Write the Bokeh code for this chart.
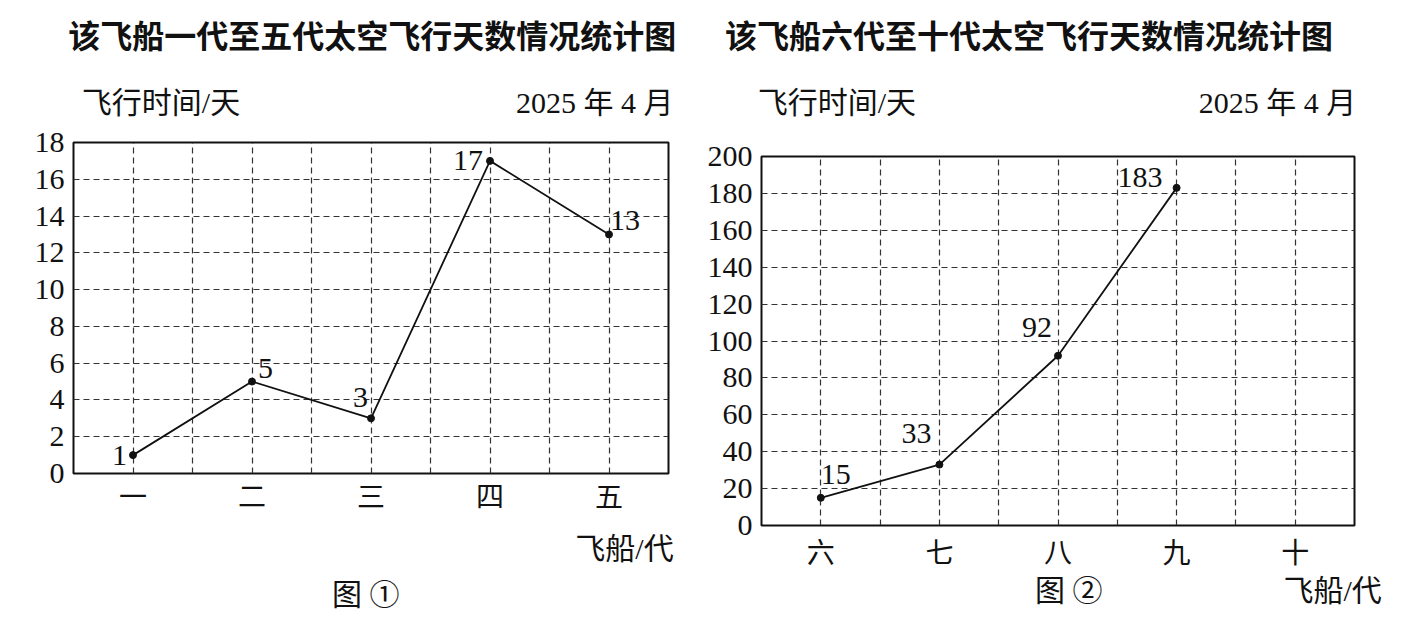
from bokeh.plotting import figure
from bokeh.models import Range1d, FixedTicker, LinearAxis, ColumnDataSource
from bokeh.layouts import row
from bokeh.embed import file_html
from bokeh.resources import INLINE
from bokeh.core.properties import value

# ---------------- data ----------------
cats1 = ["一", "二", "三", "四", "五"]
days1 = [1, 5, 3, 17, 13]
cats2 = ["六", "七", "八", "九", "十"]
days2 = [15, 33, 92, 183]
y1_ticks = [0, 2, 4, 6, 8, 10, 12, 14, 16, 18]
y2_ticks = [0, 20, 40, 60, 80, 100, 120, 140, 160, 180, 200]

title1 = "该飞船一代至五代太空飞行天数情况统计图"
title2 = "该飞船六代至十代太空飞行天数情况统计图"
ylab = "飞行时间/天"
xlab = "飞船/代"
date_text = "2025 年 4 月"
cap1 = "图 ①"
cap2 = "图 ②"

SERIF = "Liberation Serif"
CJK = "Noto Sans CJK SC"
MIX = "Liberation Serif, Noto Sans CJK SC"
INK = "#111111"


def text_axis(p, side, ticks, labels, standoff, size, font=MIX, bold=False):
    ax = LinearAxis(ticker=FixedTicker(ticks=ticks),
                    major_label_overrides={t: s for t, s in zip(ticks, labels)})
    ax.axis_line_color = None
    ax.major_tick_line_color = None
    ax.minor_tick_line_color = None
    ax.major_tick_out = 0
    ax.major_tick_in = 0
    ax.major_label_standoff = standoff
    ax.major_label_text_font = font
    ax.major_label_text_font_size = size
    ax.major_label_text_color = INK
    if bold:
        ax.major_label_text_font_style = "bold"
    p.add_layout(ax, side)
    return ax


def make_chart(cats, days, yticks, ymax, geom, lab_off):
    fw, fh, bl, br, bt, bb = geom
    p = figure(frame_width=fw, frame_height=fh, min_border_left=bl,
               min_border_right=br, min_border_top=bt, min_border_bottom=bb,
               x_range=Range1d(0, 10), y_range=Range1d(0, ymax),
               toolbar_location=None, output_backend="svg",
               background_fill_color="white", border_fill_color="white")
    p.frame_align = False
    p.title = None
    p.outline_line_color = "#111111"
    p.outline_line_width = 2
    xs_cat = [2 * i + 1 for i in range(len(cats))]
    p.xaxis.ticker = FixedTicker(ticks=xs_cat)
    p.xaxis.major_label_overrides = {x: c for x, c in zip(xs_cat, cats)}
    p.yaxis.ticker = FixedTicker(ticks=yticks)
    for ax in (p.xaxis[0], p.yaxis[0]):
        ax.axis_line_color = None
        ax.major_tick_line_color = None
        ax.minor_tick_line_color = None
        ax.major_tick_out = 0
        ax.major_tick_in = 0
        ax.major_label_text_color = INK
    p.xaxis.major_label_text_font = CJK
    p.xaxis.major_label_text_font_size = "28px"
    p.yaxis.major_label_text_font = SERIF
    p.yaxis.major_label_text_font_size = "30px"
    p.yaxis.major_label_standoff = 9
    # grids
    p.xgrid.ticker = FixedTicker(ticks=[1, 2, 3, 4, 5, 6, 7, 8, 9])
    p.ygrid.ticker = FixedTicker(ticks=yticks[1:-1])
    for g in (p.xgrid[0], p.ygrid[0]):
        g.grid_line_color = "#333333"
        g.grid_line_dash = "6 4"
        g.grid_line_width = 1.2
    # data
    xs = xs_cat[:len(days)]
    p.line(xs, days, line_color=INK, line_width=1.8)
    p.scatter(xs, days, size=7, color=INK)
    src = ColumnDataSource(dict(
        x=xs, y=days, t=[str(d) for d in days],
        dx=[o[0] for o in lab_off], dy=[-o[1] for o in lab_off],
        al=[o[2] for o in lab_off]))
    p.text(x="x", y="y", text="t", x_offset="dx", y_offset="dy",
           text_align="al", text_baseline="middle", source=src,
           text_font=value(SERIF), text_font_size="30px", text_color=INK)
    return p


# chart 1
p1 = make_chart(cats1, days1, y1_ticks, 18,
                (595, 331, 73, 32, 142, 150),
                [(-6, 0, "right"), (6, 13, "left"), (-3, 21, "right"),
                 (-7, 0, "right"), (1, 14, "left")])
p1.xaxis[0].major_label_standoff = 1
text_axis(p1, "below", [9.26], [xlab], 14, "30px")
text_axis(p1, "below", [4.91], [cap1], 10, "30px")
text_axis(p1, "above", [1.47, 8.76], [ylab, date_text], 24, "30px")
text_axis(p1, "above", [5.02], [title1], 26, "32px", font=CJK, bold=True)

# chart 2
p2 = make_chart(cats2, days2, y2_ticks, 200,
                (593, 369, 61, 45, 156, 100),
                [(0, 23, "left"), (-8, 31, "right"), (-6, 28, "right"),
                 (-14, 10, "right")])
p2.xaxis[0].major_label_standoff = 5
text_axis(p2, "below", [5.18, 9.63], [cap2, xlab], 0, "30px")
text_axis(p2, "above", [1.27, 8.70], [ylab, date_text], 38, "30px")
text_axis(p2, "above", [4.51], [title2], 26, "32px", font=CJK, bold=True)

layout = row(p1, p2, spacing=0)
open("out.html", "w").write(file_html(layout, INLINE))
